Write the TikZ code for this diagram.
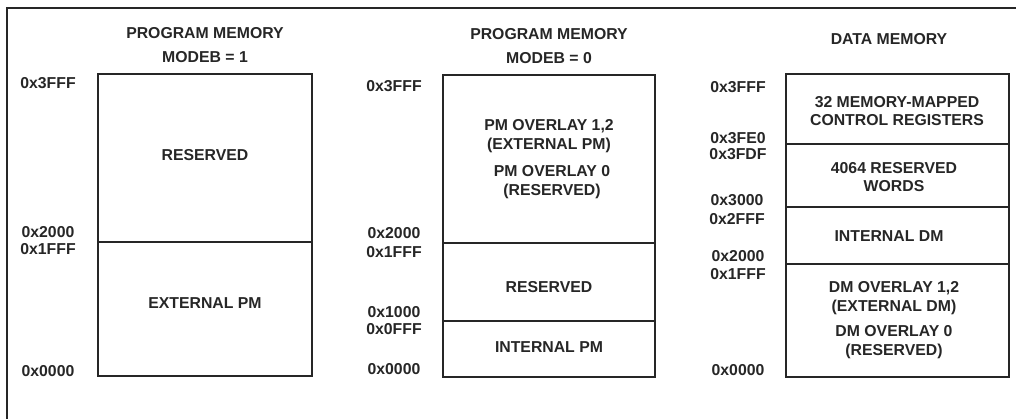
\documentclass[tikz,border=0pt]{standalone}
\usepackage{fontspec}
\setmainfont{Liberation Sans}
\tikzset{every node/.style={align=center,inner sep=0pt,font=\fontsize{15.8}{18.8}\selectfont\bfseries}}
\tikzset{every path/.style={line width=1.8pt,black!85}}
\tikzset{a/.style={anchor=center}}
\tikzset{t/.style={anchor=center}}

\begin{document}
\begin{tikzpicture}[x=1pt,y=-1pt]
\useasboundingbox (0,0) rectangle (1016,419);
\draw (7,425) -- (7,8) -- (1022,8);
% program memory, modeb = 1
\draw (98,74) rectangle (312,376);
\draw (98,242) -- (312,242);
\node[t] (T1) at (205,33) {PROGRAM MEMORY};
\node[t] (M1) at (205,57) {MODEB = 1};
\node (R1) at (205,155) {RESERVED};
\node (E1) at (205,303) {EXTERNAL PM};
\node[a] (a11) at (48,83) {0x3FFF};
\node[a] (a12) at (48,232) {0x2000};
\node[a] (a13) at (48,249) {0x1FFF};
\node[a] (a14) at (48,371) {0x0000};
% program memory, modeb = 0
\draw (443,75) rectangle (655,377);
\draw (443,243) -- (655,243);
\draw (443,321) -- (655,321);
\node[t] (T2) at (549,34) {PROGRAM MEMORY};
\node[t] (M2) at (549,58) {MODEB = 0};
\node (O2) at (549,136) {PM OVERLAY 1,2\\(EXTERNAL PM)};
\node (P2) at (552,182) {PM OVERLAY 0\\(RESERVED)};
\node (R2) at (549,287) {RESERVED};
\node (I2) at (549,347) {INTERNAL PM};
\node[a] (a21) at (394,86) {0x3FFF};
\node[a] (a22) at (394,233) {0x2000};
\node[a] (a23) at (394,252) {0x1FFF};
\node[a] (a24) at (394,312) {0x1000};
\node[a] (a25) at (394,329) {0x0FFF};
\node[a] (a26) at (394,369) {0x0000};
% data memory
\draw (786,74) rectangle (1009,377);
\draw (786,144) -- (1009,144);
\draw (786,207) -- (1009,207);
\draw (786,264) -- (1009,264);
\node[t] (T3) at (889,39) {DATA MEMORY};
\node (C3) at (897,111) {32 MEMORY-MAPPED\\CONTROL REGISTERS};
\node (W3) at (894,177) {4064 RESERVED\\WORDS};
\node (I3) at (889,236) {INTERNAL DM};
\node (O3) at (894,298) {DM OVERLAY 1,2\\(EXTERNAL DM)};
\node (P3) at (894,342) {DM OVERLAY 0\\(RESERVED)};
\node[a] (a31) at (738,87) {0x3FFF};
\node[a] (a32) at (738,138) {0x3FE0};
\node[a] (a33) at (738,154) {0x3FDF};
\node[a] (a34) at (737,200) {0x3000};
\node[a] (a35) at (737,219) {0x2FFF};
\node[a] (a36) at (738,256) {0x2000};
\node[a] (a37) at (738,274) {0x1FFF};
\node[a] (a38) at (738,370) {0x0000};
\end{tikzpicture}
\end{document}
